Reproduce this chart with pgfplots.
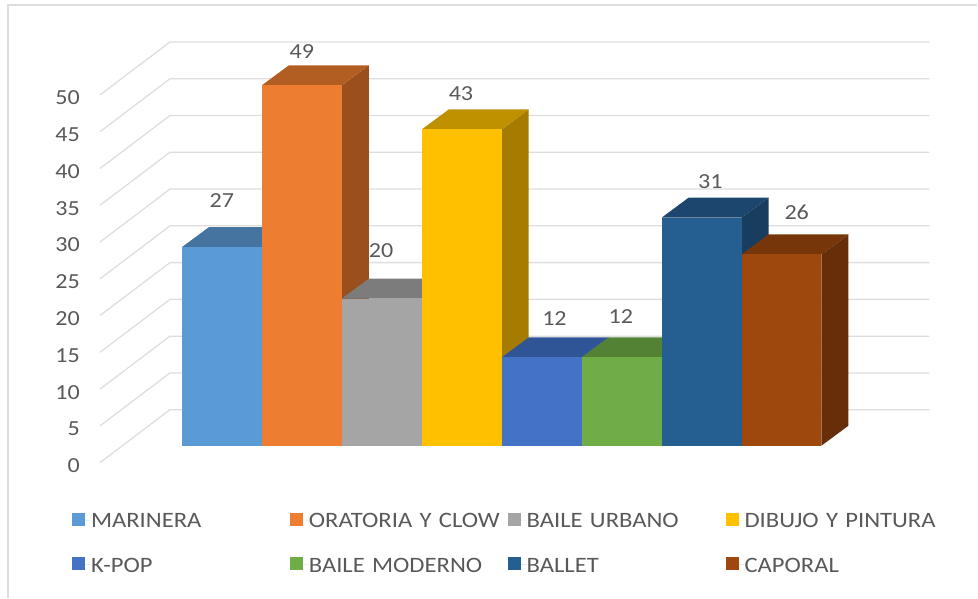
\documentclass[border=0pt]{standalone}
\usepackage{pgfplots}
\pgfplotsset{compat=1.18}
\usepackage{fontspec}
\setmainfont[FakeStretch=1.12]{Carlito}
\definecolor{gridc}{HTML}{DEDEDE}
\definecolor{txt}{HTML}{595959}
\definecolor{cA}{HTML}{5B9BD5}\definecolor{cAt}{HTML}{44749F}\definecolor{cAs}{HTML}{3C6788}
\definecolor{cB}{HTML}{ED7D31}\definecolor{cBt}{HTML}{B25E22}\definecolor{cBs}{HTML}{9A4F1C}
\definecolor{cC}{HTML}{A5A5A5}\definecolor{cCt}{HTML}{7C7C7C}\definecolor{cCs}{HTML}{6B6B6B}
\definecolor{cD}{HTML}{FFC000}\definecolor{cDt}{HTML}{BF9000}\definecolor{cDs}{HTML}{A67C00}
\definecolor{cE}{HTML}{4472C4}\definecolor{cEt}{HTML}{2F5597}\definecolor{cEs}{HTML}{2C4A80}
\definecolor{cF}{HTML}{70AD47}\definecolor{cFt}{HTML}{548235}\definecolor{cFs}{HTML}{49702E}
\definecolor{cG}{HTML}{255E91}\definecolor{cGt}{HTML}{1C466D}\definecolor{cGs}{HTML}{183D5E}
\definecolor{cH}{HTML}{9E480E}\definecolor{cHt}{HTML}{77360A}\definecolor{cHs}{HTML}{672F09}
\begin{document}
\begin{tikzpicture}
\begin{axis}[
  scale only axis, width=978pt, height=598pt,
  xmin=-2.275, xmax=9.95, ymin=-20.652, ymax=60.598,
  axis line style={draw=none}, clip=false,
  xtick=\empty,
  ytick={-2.31,5-2.31,10-2.31,15-2.31,20-2.31,25-2.31,30-2.31,35-2.31,40-2.31,45-2.31,50-2.31},
  yticklabels={0,5,10,15,20,25,30,35,40,45,50},
  major tick length=0pt,
  yticklabel style={font=\fontsize{21.5}{24}\selectfont, text=txt, anchor=east, xshift=80pt, yshift=-3pt, inner sep=0pt},
  every axis plot/.append style={line join=miter},
  legend style={at={(72/978,1-513/598)}, anchor=north west, draw=none, fill=none, inner sep=0pt, outer sep=0pt,
    font=\fontsize{22}{24}\selectfont, text=txt, legend columns=4, legend cell align=left,
    row sep=29.5pt,
    nodes={text width=199pt, text height=15pt, text depth=0pt, inner sep=0pt, outer sep=0pt, align=left}},
  legend image code/.code={\path (0pt,0pt) -- (19pt,0pt);\fill[#1] (0pt,-5.5pt) rectangle (13pt,7.5pt);},
]
% frame
\addplot[gridc, line width=1.3pt, forget plot] coordinates {(-2.175,-20.65)(-2.175,59.92)(9.95,59.92)};
% gridlines
\addplot[gridc, line width=1.3pt, forget plot] coordinates {(-1.025,-2.31)(-0.15,4.89)(9.35,4.89)};
\addplot[gridc, line width=1.3pt, forget plot] coordinates {(-1.025,2.69)(-0.15,9.89)(9.35,9.89)};
\addplot[gridc, line width=1.3pt, forget plot] coordinates {(-1.025,7.69)(-0.15,14.89)(9.35,14.89)};
\addplot[gridc, line width=1.3pt, forget plot] coordinates {(-1.025,12.69)(-0.15,19.89)(9.35,19.89)};
\addplot[gridc, line width=1.3pt, forget plot] coordinates {(-1.025,17.69)(-0.15,24.89)(9.35,24.89)};
\addplot[gridc, line width=1.3pt, forget plot] coordinates {(-1.025,22.69)(-0.15,29.89)(9.35,29.89)};
\addplot[gridc, line width=1.3pt, forget plot] coordinates {(-1.025,27.69)(-0.15,34.89)(9.35,34.89)};
\addplot[gridc, line width=1.3pt, forget plot] coordinates {(-1.025,32.69)(-0.15,39.89)(9.35,39.89)};
\addplot[gridc, line width=1.3pt, forget plot] coordinates {(-1.025,37.69)(-0.15,44.89)(9.35,44.89)};
\addplot[gridc, line width=1.3pt, forget plot] coordinates {(-1.025,42.69)(-0.15,49.89)(9.35,49.89)};
\addplot[gridc, line width=1.3pt, forget plot] coordinates {(-1.025,47.69)(-0.15,54.89)(9.35,54.89)};
% MARINERA 27
\addplot[fill=cAs, draw=none, forget plot] coordinates {(1,0)(1.3375,2.717)(1.3375,29.717)(1,27)} --cycle;
\addplot[fill=cAt, draw=none, forget plot] coordinates {(0,27)(1,27)(1.3375,29.717)(0.3375,29.717)} --cycle;
\addplot[fill=cA, draw=none] coordinates {(0,0)(1,0)(1,27)(0,27)} --cycle;
\addlegendentry{MARINERA}
% ORATORIA 49
\addplot[fill=cBs, draw=none, forget plot] coordinates {(2,0)(2.3375,2.717)(2.3375,51.717)(2,49)} --cycle;
\addplot[fill=cBt, draw=none, forget plot] coordinates {(1,49)(2,49)(2.3375,51.717)(1.3375,51.717)} --cycle;
\addplot[fill=cB, draw=none] coordinates {(1,0)(2,0)(2,49)(1,49)} --cycle;
\addlegendentry{ORATORIA Y CLOW}
% BAILE URBANO 20
\addplot[fill=cCs, draw=none, forget plot] coordinates {(3,0)(3.3375,2.717)(3.3375,22.717)(3,20)} --cycle;
\addplot[fill=cCt, draw=none, forget plot] coordinates {(2,20)(3,20)(3.3375,22.717)(2.3375,22.717)} --cycle;
\addplot[fill=cC, draw=none] coordinates {(2,0)(3,0)(3,20)(2,20)} --cycle;
\addlegendentry{BAILE URBANO}
% DIBUJO 43
\addplot[fill=cDs, draw=none, forget plot] coordinates {(4,0)(4.3375,2.717)(4.3375,45.717)(4,43)} --cycle;
\addplot[fill=cDt, draw=none, forget plot] coordinates {(3,43)(4,43)(4.3375,45.717)(3.3375,45.717)} --cycle;
\addplot[fill=cD, draw=none] coordinates {(3,0)(4,0)(4,43)(3,43)} --cycle;
\addlegendentry{DIBUJO Y PINTURA}
% K-POP 12
\addplot[fill=cEs, draw=none, forget plot] coordinates {(5,0)(5.3375,2.717)(5.3375,14.717)(5,12)} --cycle;
\addplot[fill=cEt, draw=none, forget plot] coordinates {(4,12)(5,12)(5.3375,14.717)(4.3375,14.717)} --cycle;
\addplot[fill=cE, draw=none] coordinates {(4,0)(5,0)(5,12)(4,12)} --cycle;
\addlegendentry{K-POP}
% BAILE MODERNO 12
\addplot[fill=cFs, draw=none, forget plot] coordinates {(6,0)(6.3375,2.717)(6.3375,14.717)(6,12)} --cycle;
\addplot[fill=cFt, draw=none, forget plot] coordinates {(5,12)(6,12)(6.3375,14.717)(5.3375,14.717)} --cycle;
\addplot[fill=cF, draw=none] coordinates {(5,0)(6,0)(6,12)(5,12)} --cycle;
\addlegendentry{BAILE MODERNO}
% BALLET 31
\addplot[fill=cGs, draw=none, forget plot] coordinates {(7,0)(7.3375,2.717)(7.3375,33.717)(7,31)} --cycle;
\addplot[fill=cGt, draw=none, forget plot] coordinates {(6,31)(7,31)(7.3375,33.717)(6.3375,33.717)} --cycle;
\addplot[fill=cG, draw=none] coordinates {(6,0)(7,0)(7,31)(6,31)} --cycle;
\addlegendentry{BALLET}
% CAPORAL 26
\addplot[fill=cHs, draw=none, forget plot] coordinates {(8,0)(8.3375,2.717)(8.3375,28.717)(8,26)} --cycle;
\addplot[fill=cHt, draw=none, forget plot] coordinates {(7,26)(8,26)(8.3375,28.717)(7.3375,28.717)} --cycle;
\addplot[fill=cH, draw=none] coordinates {(7,0)(8,0)(8,26)(7,26)} --cycle;
\addlegendentry{CAPORAL}
% data labels
\addplot[draw=none, mark=none, forget plot, point meta=explicit symbolic,
  nodes near coords, nodes near coords align={center},
  every node near coord/.append style={font=\fontsize{21.5}{24}\selectfont, text=txt, anchor=center, inner sep=0pt}]
 coordinates {(0.5,33.3)[27] (1.5,53.6)[49] (2.49,26.5)[20] (3.49,47.9)[43] (4.66,17.3)[12] (5.49,17.6)[12] (6.61,35.9)[31] (7.69,31.7)[26]};
\end{axis}
\end{tikzpicture}
\end{document}
